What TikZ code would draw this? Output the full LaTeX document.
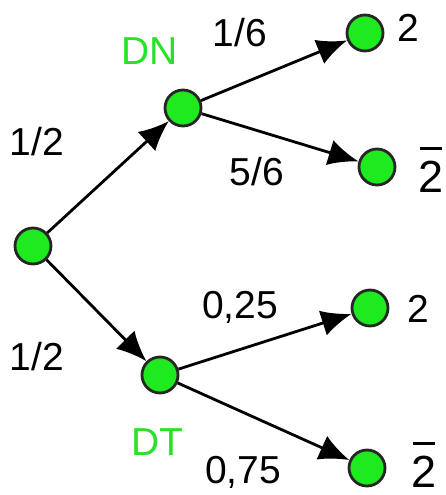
\documentclass[tikz,border=0pt]{standalone}
\usepackage{fontspec}
\setmainfont{Liberation Sans}
\usepackage{xcolor}
\usepackage{tikz}
\usetikzlibrary{arrows.meta}

\definecolor{nodegreen}{RGB}{30,235,30}
\definecolor{labelgreen}{RGB}{40,225,40}

\newsavebox{\digitbox}
\newcommand{\barred}[1]{\sbox{\digitbox}{#1}\vbox{\offinterlineskip\hbox to \wd\digitbox{\hss\vrule height 3pt width 0.85\wd\digitbox\hss}\kern 11pt \copy\digitbox}}

\begin{document}
\begin{tikzpicture}[x=1pt,y=-1pt,
	event/.style={circle,draw=black!85,line width=2.8pt,fill=nodegreen,minimum size=36pt,inner sep=0},
	prob/.style={anchor=base,inner sep=0,font=\fontsize{39}{40}\selectfont},
	outcome/.style={anchor=base,inner sep=0,font=\fontsize{45}{46}\selectfont},
	branch/.style={line width=2.8pt,-{Latex[length=30pt,width=26pt]}}]

\useasboundingbox (0,0) rectangle (446,495);

\node[event] (root) at (33,246) {};
\node[event] (dn) at (183,108) {};
\node[event] (dt) at (160,375) {};

\node[event] (dn2) at (365,33) {};
\node[event] (dn2b) at (377,167) {};
\node[event] (dt2) at (370,308) {};
\node[event] (dt2b) at (367,468) {};

\draw[branch] (root)--(dn);
\draw[branch] (root)--(dt);
\draw[branch] (dn)--(dn2);
\draw[branch] (dn)--(dn2b);
\draw[branch] (dt)--(dt2);
\draw[branch] (dt)--(dt2b);

\node[prob,text=labelgreen] (dnlabel) at (150,65) {DN};
\node[prob,text=labelgreen] (dtlabel) at (157,455) {DT};

\node[prob] (pdn) at (37,155) {1/2};
\node[prob] (pdt) at (37,370) {1/2};
\node[prob] (pdntwo) at (240,47) {1/6};
\node[prob] (pdnnot) at (257,185) {5/6};
\node[prob] (pdttwo) at (240,318) {0,25};
\node[prob] (pdtnot) at (243,483) {0,75};

\node[prob] (odntwo) at (408,42) {2};
\node[outcome] (odnnot) at (431,192) {\barred{2}};
\node[prob] (odttwo) at (418,322) {2};
\node[outcome] (odtnot) at (424,487) {\barred{2}};

\end{tikzpicture}
\end{document}
